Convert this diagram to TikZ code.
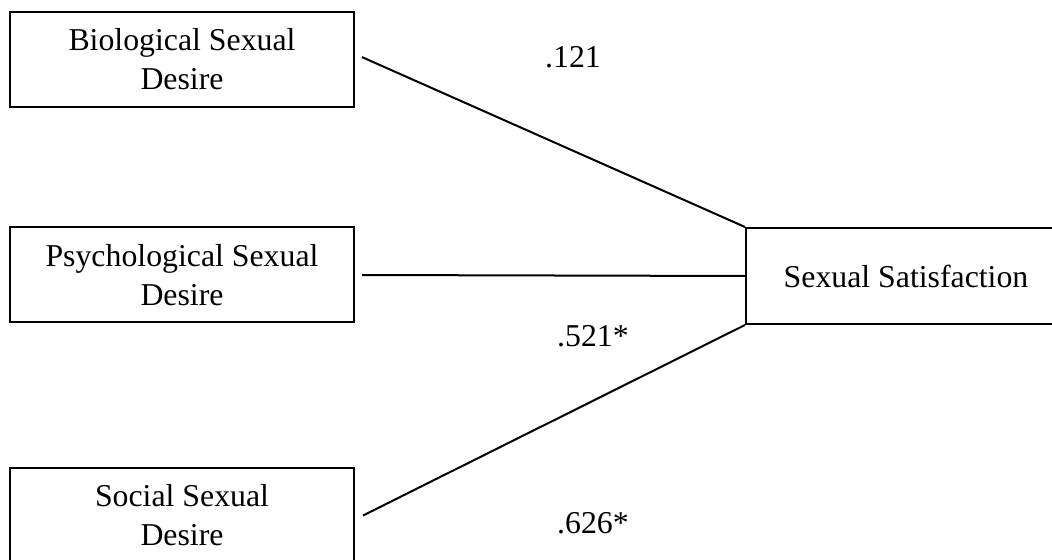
\documentclass[tikz,border=0pt]{standalone}
\usepackage{fontspec}
\setmainfont{Liberation Serif}
\usepackage{tikz}
\usetikzlibrary{positioning,calc}

\tikzset{
    varbox/.style={draw, line width=1pt, minimum width=172pt, minimum height=47.5pt, align=center, inner sep=0pt, font=\fontsize{15.9}{19.5}\selectfont},
    coef/.style={font=\fontsize{15.9}{19.5}\selectfont, inner sep=0pt}
}

\begin{document}
\begin{tikzpicture}[x=0.5pt, y=-0.5pt]
        \clip (0,0) rectangle (1052,560);
        % Predictors
        \node[varbox] (bio) at (182,59.5) {Biological Sexual\\Desire};
        \node[varbox] (psy) at (182,275) {Psychological Sexual\\Desire};
        \node[varbox] (soc) at (182,515.5) {Social Sexual\\Desire};
        % Outcome
        \node[varbox, minimum width=160pt, minimum height=48pt] (sat) at (906,276) {Sexual Satisfaction};

        % Paths
        \draw[line width=1pt] ([xshift=3.5pt,yshift=1.2pt]bio.east) -- (sat.north west);
        \draw[line width=1pt] ([xshift=3.5pt]psy.east) -- (sat.west);
        \draw[line width=1pt] ([xshift=4pt]soc.east) -- (sat.south west);

        % Labels
        \node[coef] (c1) at (573,57) {.121};
        \node[coef] (c2) at (593,336) {.521*};
        \node[coef] (c3) at (593,523) {.626*};
    \end{tikzpicture}
\end{document}
